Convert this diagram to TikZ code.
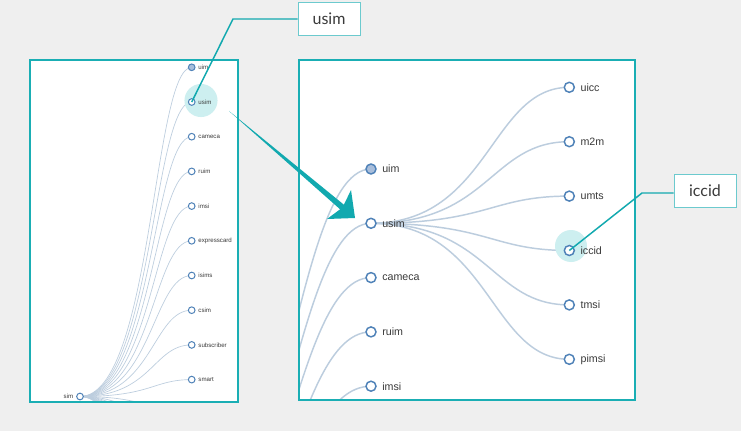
\documentclass[tikz,border=0pt]{standalone}
\usepackage{fontspec}
\setmainfont{Liberation Sans}
\newfontfamily\calloutfont{Lato}
\usetikzlibrary{calc}
\definecolor{bggray}{HTML}{EFEFEF}
\definecolor{frameteal}{HTML}{1AAEB4}
\definecolor{arrteal}{HTML}{12A9AF}
\definecolor{boxteal}{HTML}{6CCACE}
\definecolor{halo}{HTML}{CDEFF0}
\definecolor{linkblue}{HTML}{BCCDDE}
\definecolor{nodeblue}{HTML}{4F82B8}
\definecolor{nodefill}{HTML}{A9BEDB}
\definecolor{lbltext}{HTML}{3A3A3A}

\begin{document}
\begin{tikzpicture}[
  x=0.75pt, y=-0.75pt,
  panelbg/.style={fill=white},
  panelframe/.style={draw=frameteal, line width=1.5pt},
  link/.style={draw=linkblue, line width=#1},
  smallleaf/.style={circle, draw=nodeblue, line width=0.75pt, fill=white,
    minimum size=5pt, inner sep=0pt},
  bigleaf/.style={circle, draw=nodeblue, line width=1.1pt, fill=white,
    minimum size=7.5pt, inner sep=0pt},
  smalllbl/.style={font=\fontsize{4.6}{5}\selectfont, text=lbltext, inner sep=0pt},
  biglbl/.style={font=\fontsize{8}{9}\selectfont, text=lbltext, anchor=west, inner sep=0pt},
  callout/.style={draw=boxteal, line width=0.75pt, fill=white,
    minimum width=46.5pt, minimum height=25pt,
    font=\calloutfont\fontsize{12}{14}\selectfont, text=lbltext},
  callline/.style={draw=arrteal, line width=1.1pt},
]

% Background
\fill[bggray] (0,0) rectangle (741,431);
\useasboundingbox (0,0) rectangle (741,431);

% ---- Left panel: whole tree ----
\fill[panelbg] (30,60) rectangle (238,402);
\coordinate (l-sim) at (80,396.5);
\begin{scope}
  \clip (30,60) rectangle (238,402);
  \foreach \k in {0,...,19}{
    \coordinate (l-\k) at (191.7,{67.3+34.7*\k});
    \draw[link=0.5pt] (l-sim) .. controls ($(l-sim)!0.65!(l-\k |- l-sim)$)
      and ($(l-\k)!0.35!(l-sim |- l-\k)$) .. (l-\k);
  }
\end{scope}
\fill[halo] (201,100.5) circle[radius=12.4pt];

\node[smallleaf, fill=nodefill] (l-uim) at (l-0) {};
\node[smalllbl, anchor=west] at ($(l-0)+(6.5,0)$) {uim};
\foreach \name [count=\k] in {usim,cameca,ruim,imsi,expresscard,isims,csim,subscriber,smart}{
  \node[smallleaf] (l-\name) at (l-\k) {};
  \node[smalllbl, anchor=west] at ($(l-\k)+(6.5,0)$) {\name};
}
\node[smallleaf] (l-root) at (l-sim) {};
\node[smalllbl, anchor=east] at ($(l-sim)+(-6.5,0)$) {sim};
\draw[panelframe] (30,60) rectangle (238,402);

% ---- Right panel: zoom on usim ----
\fill[panelbg] (299,60) rectangle (635,400);
\coordinate (r-sim) at (112,684.9);
\begin{scope}
  \clip (299,60) rectangle (635,400);
  \foreach \k in {0,...,4}{
    \coordinate (r-\k) at (371,{169+54.3*\k});
    \draw[link=1.1pt] (r-sim) .. controls ($(r-sim)!0.65!(r-\k |- r-sim)$)
      and ($(r-\k)!0.35!(r-sim |- r-\k)$) .. (r-\k);
  }
  \foreach \k in {0,...,5}{
    \coordinate (c-\k) at (569.3,{87.3+54.4*\k});
    \draw[link=1.1pt] (r-1) .. controls ($(r-1)!0.6!(c-\k |- r-1)$)
      and ($(c-\k)!0.4!(r-1 |- c-\k)$) .. (c-\k);
  }
\end{scope}
\fill[halo] (571,246) circle[radius=12pt];

\node[bigleaf, fill=nodefill] (r-uim) at (r-0) {};
\node[biglbl] at ($(r-0)+(11,0)$) {uim};
\foreach \name [count=\k] in {usim,cameca,ruim,imsi}{
  \node[bigleaf] (r-\name) at (r-\k) {};
  \node[biglbl] at ($(r-\k)+(11,0)$) {\name};
}
\foreach \name [count=\k from 0] in {uicc,m2m,umts,iccid,tmsi,pimsi}{
  \node[bigleaf] (c-\name) at (c-\k) {};
  \node[biglbl] at ($(c-\k)+(11,0)$) {\name};
}
\draw[panelframe] (299,60) rectangle (635,400);

% ---- Zoom arrow ----
\coordinate (arrtail) at (229,111);
\coordinate (arrtip) at (355,218);
\fill[arrteal] (arrtail) -- ($(arrtip)+(-11.1,-13.3)$) -- ($(arrtip)+(-4,-28)$)
  -- (arrtip) -- ($(arrtip)+(-28,1)$) -- ($(arrtip)+(-14.9,-8.7)$) -- cycle;

% ---- Callouts ----
\node[callout] (co-usim) at (329,19) {usim};
\coordinate (usimbend) at (233,19);
\draw[callline] (l-usim.center) -- (usimbend) -- (co-usim.west);

\node[callout] (co-iccid) at (705,190.8) {iccid};
\coordinate (iccidbend) at (642,193);
\draw[callline] (c-iccid.center) -- (iccidbend) -- (co-iccid.west |- iccidbend);

\end{tikzpicture}
\end{document}
